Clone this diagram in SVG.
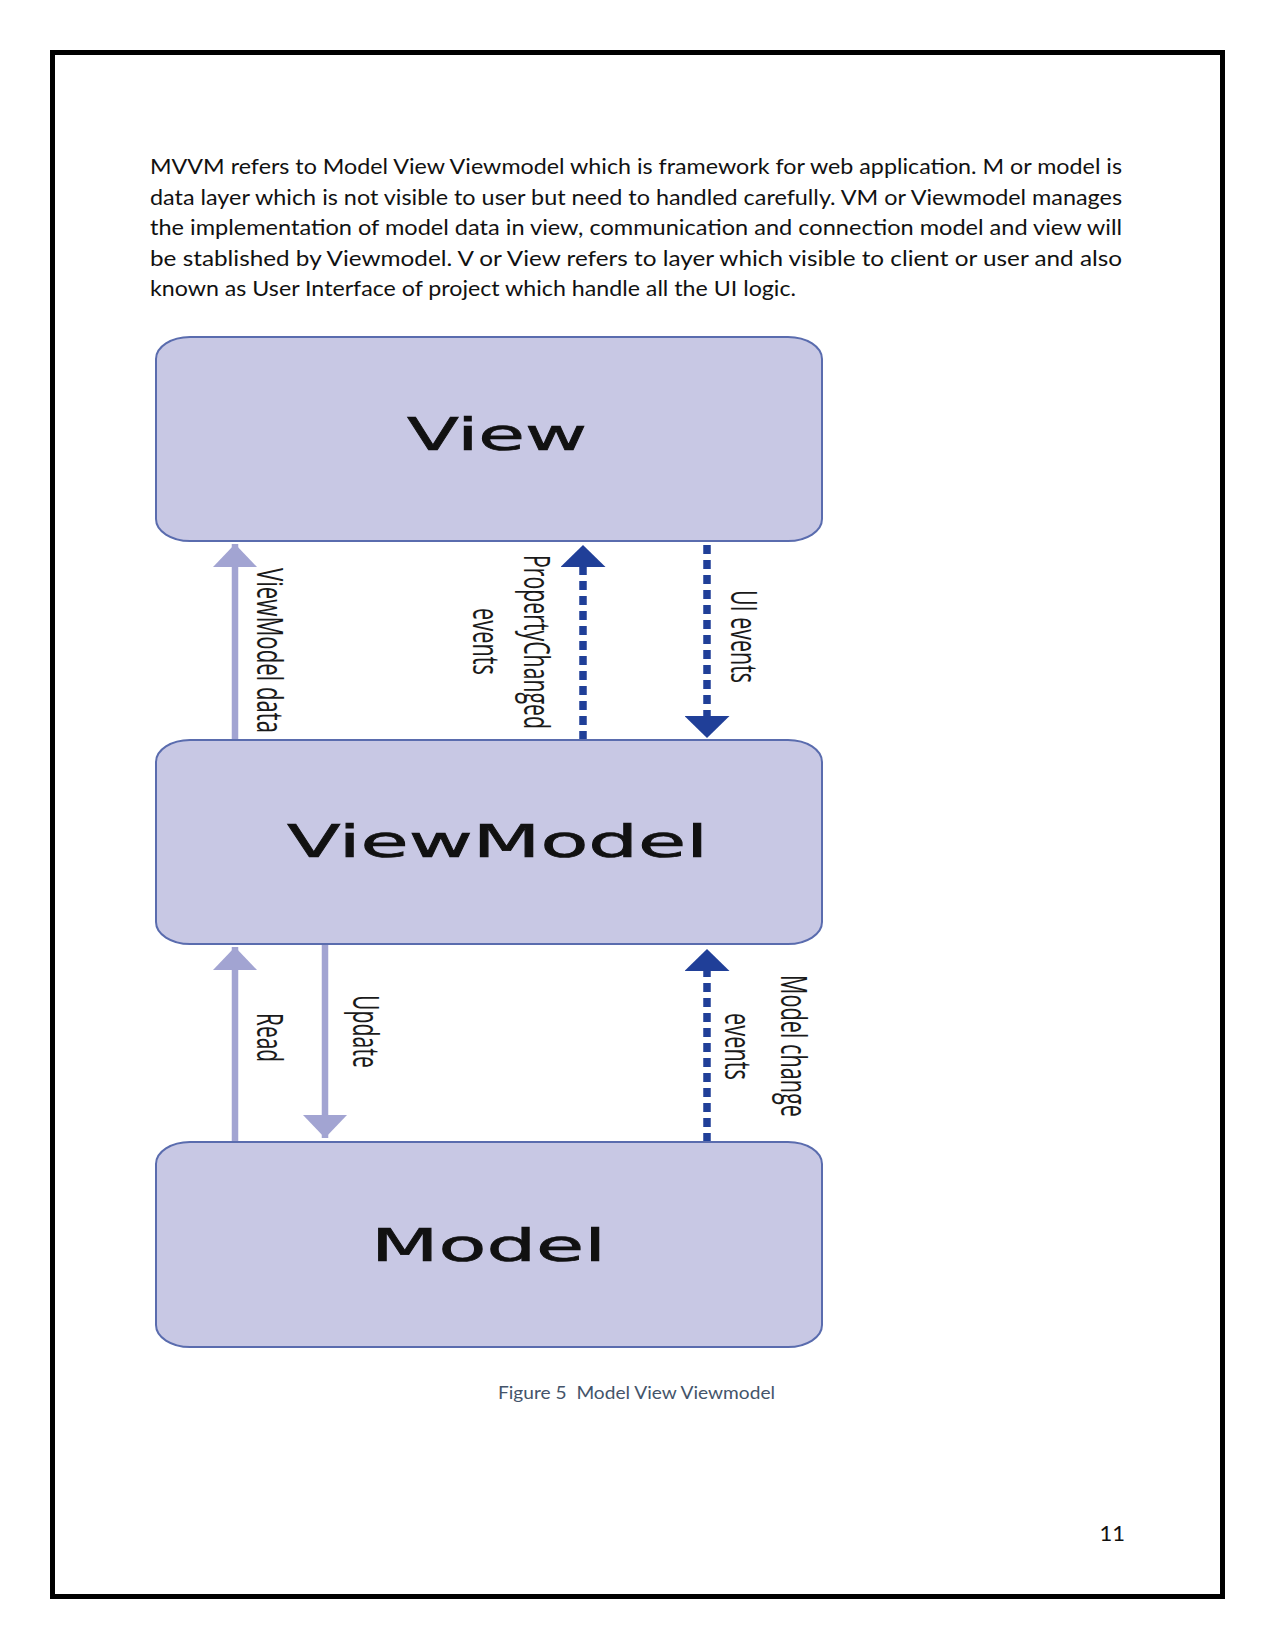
<svg xmlns="http://www.w3.org/2000/svg" width="1275" height="1651" viewBox="0 0 1275 1651">
<style>
.body{font-family:Lato,"Liberation Sans",sans-serif;font-size:22px;fill:#111}
.box{fill:#c8c8e4;stroke:#5a6cae;stroke-width:2}
.title{font-family:"DejaVu Sans",sans-serif;font-size:45px;fill:#111;stroke:#111;stroke-width:0.7}
.lbl{font-family:"Open Sans","Liberation Sans",sans-serif;font-size:21.5px;fill:#1a1a1a}
.light{stroke:#a2a4d2;stroke-width:6.5;fill:none}
.dark{stroke:#203f98;stroke-width:7.5;fill:none;stroke-dasharray:9 6}
.cap{font-family:Lato,"Liberation Sans",sans-serif;font-size:16.5px;fill:#44546a}
</style>
<defs>
<marker id="ahL" markerUnits="userSpaceOnUse" viewBox="0 0 23 44" markerWidth="23" markerHeight="44" refX="23" refY="22" orient="auto"><path d="M0,0 L23,22 L0,44 Z" fill="#a2a4d2"/></marker>
<marker id="ahD" markerUnits="userSpaceOnUse" viewBox="0 0 22 45" markerWidth="22" markerHeight="45" refX="22" refY="22.5" orient="auto"><path d="M0,0 L22,22.5 L0,45 Z" fill="#203f98"/></marker>
</defs>
<rect width="1275" height="1651" fill="#fff"/>
<rect x="52.5" y="52.5" width="1170" height="1544" fill="none" stroke="#000" stroke-width="5"/>
<g id="paragraph" class="body">
<text x="150" y="174" textLength="972" lengthAdjust="spacingAndGlyphs">MVVM refers to Model View Viewmodel which is framework for web application. M or model is</text>
<text x="150" y="204.5" textLength="972" lengthAdjust="spacingAndGlyphs">data layer which is not visible to user but need to handled carefully. VM or Viewmodel manages</text>
<text x="150" y="235" textLength="972" lengthAdjust="spacingAndGlyphs">the implementation of model data in view, communication and connection model and view will</text>
<text x="150" y="265.5" textLength="972" lengthAdjust="spacingAndGlyphs">be stablished by Viewmodel. V or View refers to layer which visible to client or user and also</text>
<text x="150" y="296" textLength="646" lengthAdjust="spacingAndGlyphs">known as User Interface of project which handle all the UI logic.</text>
</g>
<g id="connectors">
<path class="light" d="M235,740 L235,544" marker-end="url(#ahL)"/>
<path class="dark" d="M583,740 L583,545" marker-end="url(#ahD)"/>
<path class="dark" d="M707,545 L707,738" marker-end="url(#ahD)"/>
<path class="light" d="M235,1142 L235,947" marker-end="url(#ahL)"/>
<path class="light" d="M325,945 L325,1138" marker-end="url(#ahL)"/>
<path class="dark" d="M707,1142 L707,949" marker-end="url(#ahD)"/>
<g class="lbl">
<text transform="translate(257,650.5) rotate(90) scale(1,1.7)" text-anchor="middle" textLength="165" lengthAdjust="spacingAndGlyphs">ViewModel data</text>
<text transform="translate(524,642) rotate(90) scale(1,1.7)" text-anchor="middle" textLength="174" lengthAdjust="spacingAndGlyphs">PropertyChanged</text>
<text transform="translate(473,641.5) rotate(90) scale(1,1.7)" text-anchor="middle" textLength="67" lengthAdjust="spacingAndGlyphs">events</text>
<text transform="translate(731,636.5) rotate(90) scale(1,1.7)" text-anchor="middle" textLength="93" lengthAdjust="spacingAndGlyphs">UI events</text>
<text transform="translate(257,1037.5) rotate(90) scale(1,1.7)" text-anchor="middle" textLength="49" lengthAdjust="spacingAndGlyphs">Read</text>
<text transform="translate(353,1031.5) rotate(90) scale(1,1.7)" text-anchor="middle" textLength="73" lengthAdjust="spacingAndGlyphs">Update</text>
<text transform="translate(781,1046) rotate(90) scale(1,1.7)" text-anchor="middle" textLength="142" lengthAdjust="spacingAndGlyphs">Model change</text>
<text transform="translate(725,1046.5) rotate(90) scale(1,1.7)" text-anchor="middle" textLength="67" lengthAdjust="spacingAndGlyphs">events</text>
</g>
</g>
<g id="view">
<rect class="box" x="156" y="337" width="666" height="204" rx="34" ry="22"/>
<text class="title" x="407" y="450" textLength="180" lengthAdjust="spacingAndGlyphs">View</text>
</g>
<g id="viewmodel">
<rect class="box" x="156" y="740" width="666" height="204" rx="34" ry="22"/>
<text class="title" x="287" y="857" textLength="421" lengthAdjust="spacingAndGlyphs">ViewModel</text>
</g>
<g id="model">
<rect class="box" x="156" y="1142" width="666" height="205" rx="34" ry="22"/>
<text class="title" x="371" y="1261" textLength="235" lengthAdjust="spacingAndGlyphs">Model</text>
</g>
<text class="cap" x="498" y="1399" textLength="277" lengthAdjust="spacingAndGlyphs">Figure 5&#160; Model View Viewmodel</text>
<text class="body" x="1125" y="1541" text-anchor="end">11</text>
</svg>
